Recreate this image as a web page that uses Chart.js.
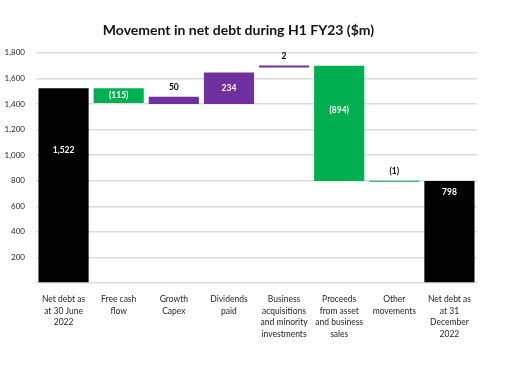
<!DOCTYPE html>
<html>
<head>
<meta charset="utf-8">
<script src="https://cdn.jsdelivr.net/npm/chart.js@4"></script>
<style>
  body { margin: 0; background: #fff; }
</style>
</head>
<body>
<canvas id="waterfall" width="508" height="377"></canvas>
<script>
// categories (multi-line axis labels)
const categories = [
    ['Net debt as', 'at 30 June', '2022'],
    ['Free cash', 'flow'],
    ['Growth', 'Capex'],
    ['Dividends', 'paid'],
    ['Business', 'acquisitions', 'and minority', 'investments'],
    ['Proceeds', 'from asset', 'and business', 'sales'],
    ['Other', 'movements'],
    ['Net debt as', 'at 31', 'December', '2022']
];

// floating bar ranges ($m)
const barStart = [0, 1407, 1400, 1400, 1686, 798, 792, 0];
const barEnd   = [1522, 1522, 1457, 1645, 1701, 1698, 800, 798];

// printed value labels
const valueLabels = ['1,522', '(115)', '50', '234', '2', '(894)', '(1)', '798'];

// bar type: total / increase / decrease
const barKind = ['total', 'down', 'up', 'up', 'up', 'down', 'down', 'total'];

const yTicks = [0, 200, 400, 600, 800, 1000, 1200, 1400, 1600, 1800];

const kindColour = { total: '#000000', up: '#7030A0', down: '#00B050' };
// where each value label sits: fraction down from bar top, or 'above'
const labelPlacement = [0.32, 0.5, 'above', 0.5, 'above', 0.39, 'above', 0.11];

const valueLabelPlugin = {
    id: 'valueLabels',
    afterDatasetsDraw(chart) {
        const ctx = chart.ctx;
        const meta = chart.getDatasetMeta(0);
        ctx.save();
        ctx.font = 'bold 8.5px Lato';
        ctx.textAlign = 'center';
        ctx.textBaseline = 'middle';
        meta.data.forEach((bar, i) => {
            const top = Math.min(bar.y, bar.base);
            const bottom = Math.max(bar.y, bar.base);
            let y, colour = '#ffffff';
            if (labelPlacement[i] === 'above') {
                y = top - 9;
                colour = '#000000';
            } else {
                y = top + (bottom - top) * labelPlacement[i];
            }
            ctx.fillStyle = colour;
            ctx.fillText(valueLabels[i], bar.x, y);
        });
        ctx.restore();
    }
};

new Chart(document.getElementById('waterfall'), {
    type: 'bar',
    data: {
        labels: categories,
        datasets: [{
            data: barStart.map((s, i) => [s, barEnd[i]]),
            backgroundColor: barKind.map(k => kindColour[k]),
            borderWidth: 0,
            barPercentage: 0.91,
            categoryPercentage: 1.0
        }]
    },
    options: {
        responsive: false,
        animation: false,
        layout: { padding: { left: 0, right: 31, top: 0, bottom: 0 } },
        plugins: {
            legend: { display: false },
            tooltip: { enabled: false },
            title: {
                display: true,
                text: 'Movement in net debt during H1 FY23 ($m)',
                color: '#141414',
                font: { family: 'Lato', size: 14, weight: 'bold' },
                padding: { top: 22, bottom: 14 }
            }
        },
        scales: {
            x: {
                grid: { display: false },
                border: { display: false },
                ticks: {
                    color: '#262626',
                    font: { family: 'Lato', size: 8.5, lineHeight: 1.4 },
                    padding: 2,
                    maxRotation: 0,
                    autoSkip: false
                },
                afterFit(axis) { axis.height = 94; }
            },
            y: {
                min: 0,
                max: 1800,
                afterBuildTicks(axis) { axis.ticks = yTicks.map(v => ({ value: v })); },
                grid: { color: '#dcdcdc', lineWidth: 1.5, drawTicks: false },
                border: { display: false },
                ticks: {
                    color: '#262626',
                    font: { family: 'Lato', size: 8 },
                    padding: 11,
                    callback: v => v === 0 ? '' : v.toLocaleString('en-US')
                },
                afterFit(axis) { axis.width = 36; }
            }
        }
    },
    plugins: [valueLabelPlugin]
});
</script>
</body>
</html>
